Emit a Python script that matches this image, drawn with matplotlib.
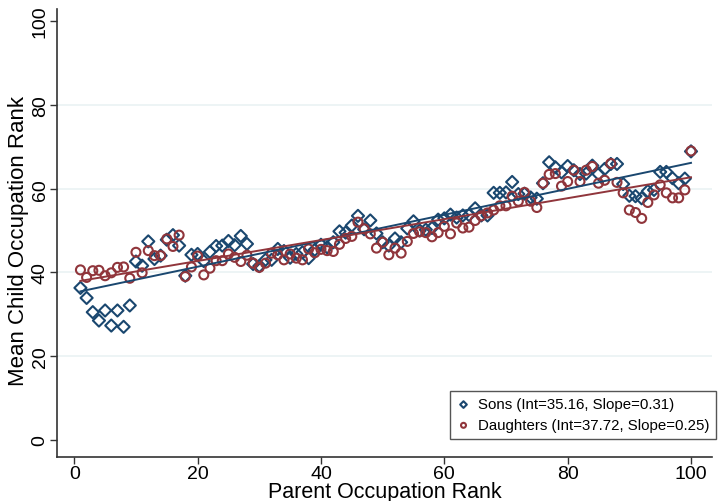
import matplotlib
matplotlib.use("Agg")
import matplotlib.pyplot as plt
import numpy as np

plt.rcParams['font.family'] = ['Liberation Sans', 'DejaVu Sans']

# parent occupation rank (percentiles)
ranks = np.arange(1, 101)

sons = [
    36.3, 33.9, 30.5, 28.5, 30.9, 27.3, 30.9, 27.0, 32.1, 42.6,
    41.6, 47.4, 43.2, 44.0, 47.8, 48.9, 46.4, 39.2, 44.2, 44.4,
    42.7, 44.9, 46.3, 46.4, 47.5, 46.5, 48.7, 46.8, 42.0, 41.5,
    43.0, 43.0, 45.6, 45.1, 43.5, 44.4, 44.8, 43.4, 45.4, 46.6,
    46.0, 47.2, 49.8, 49.5, 51.2, 53.5, 50.3, 52.4, 49.3, 47.2,
    46.4, 48.1, 47.2, 50.5, 52.2, 50.0, 50.2, 50.6, 52.6, 52.9,
    53.8, 53.1, 53.6, 53.7, 55.3, 53.6, 53.6, 59.0, 59.0, 59.1,
    61.6, 58.7, 58.8, 57.9, 57.6, 61.3, 66.3, 65.1, 63.9, 65.4,
    64.4, 63.5, 63.6, 65.5, 63.5, 64.7, 65.9, 65.9, 61.1, 58.3,
    58.2, 57.7, 59.4, 59.7, 64.0, 64.0, 62.5, 61.3, 62.4, 68.9,
]

daughters = [
    40.6, 38.8, 40.4, 40.5, 39.2, 39.9, 41.2, 41.3, 38.6, 44.8,
    39.9, 45.2, 44.0, 44.0, 48.0, 46.2, 48.9, 39.0, 41.3, 43.9,
    39.4, 41.0, 42.8, 42.8, 44.4, 43.6, 42.6, 44.1, 42.2, 41.2,
    42.2, 44.6, 44.2, 43.0, 44.4, 43.4, 43.0, 45.6, 44.7, 45.5,
    45.2, 45.0, 46.7, 48.1, 48.6, 52.0, 50.4, 49.2, 45.8, 47.2,
    44.2, 45.8, 44.6, 47.4, 49.3, 49.7, 49.5, 48.5, 49.5, 51.0,
    49.2, 51.8, 50.6, 50.8, 52.4, 53.5, 54.2, 54.9, 55.9, 55.9,
    58.2, 57.0, 59.1, 57.0, 55.5, 61.3, 63.4, 63.6, 60.6, 61.7,
    64.4, 61.7, 64.4, 65.3, 61.3, 62.0, 66.0, 61.5, 59.0, 54.9,
    54.3, 52.9, 56.7, 58.5, 60.9, 59.0, 57.8, 57.8, 59.7, 69.0,
]

# fitted lines reported in the legend
son_fit = (35.16, 0.31)
dau_fit = (37.72, 0.25)

son_col = '#1a476f'
dau_col = '#90353b'

fig = plt.figure(figsize=(7.18, 5.02), dpi=100)
ax = fig.add_axes([0.0794, 0.0876, 0.9122, 0.8924])

ax.scatter(ranks, sons, marker='D', s=38, facecolors='none',
           edgecolors=son_col, linewidths=1.5, zorder=3,
           label='Sons (Int=%.2f, Slope=%.2f)' % son_fit)
ax.scatter(ranks, daughters, marker='o', s=42, facecolors='none',
           edgecolors=dau_col, linewidths=1.5, zorder=3,
           label='Daughters (Int=%.2f, Slope=%.2f)' % dau_fit)

xx = np.array([ranks[0], ranks[-1]])
ax.plot(xx, son_fit[0] + son_fit[1] * xx, color=son_col, lw=1.4, zorder=4)
ax.plot(xx, dau_fit[0] + dau_fit[1] * xx, color=dau_col, lw=1.4, zorder=4)

ax.set_xlim(-2.8, 103.4)
ax.set_ylim(-4.1, 102.9)
ax.set_xticks([0, 20, 40, 60, 80, 100])
ax.set_yticks([0, 20, 40, 60, 80, 100])
ax.set_yticklabels(['0', '20', '40', '60', '80', '100'], rotation=90, va='center')
for g in [20, 40, 60, 80]:
    ax.axhline(g, color='#eaf2f3', lw=1.2, zorder=0)

ax.tick_params(axis='both', direction='out', length=5, width=1, labelsize=14,
               color='#333333')
ax.tick_params(axis='x', pad=1)
ax.tick_params(axis='y', pad=1)
ax.spines['top'].set_visible(False)
ax.spines['right'].set_visible(False)
for s in ['left', 'bottom']:
    ax.spines[s].set_color('#333333')
    ax.spines[s].set_linewidth(1.2)

# axis titles placed by hand (pixel positions)
ax.set_xlabel('Parent Occupation Rank', fontsize=15.5)
ax.xaxis.label.set_va('baseline')
ax.xaxis.set_label_coords(0.5, (458 - 498) / 448)
ax.set_ylabel('Mean Child Occupation Rank', fontsize=16)
ax.yaxis.label.set_va('center')
ax.yaxis.set_label_coords((18 - 57) / 655, 0.485)

leg = ax.legend(loc='lower right', fontsize=10.8, markerscale=0.55,
                handlelength=0.9, handletextpad=0.5, borderpad=0.45,
                labelspacing=0.45, borderaxespad=0,
                fancybox=False, framealpha=1, edgecolor='#555555',
                bbox_to_anchor=(716 / 718, 1 - 440 / 502),
                bbox_transform=fig.transFigure)
leg.get_frame().set_linewidth(1.0)

fig.savefig('out.png', dpi=100, facecolor='white')
